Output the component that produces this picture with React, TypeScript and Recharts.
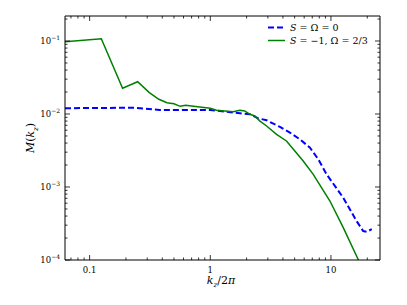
import React from "react";
import { LineChart, Line, XAxis, YAxis } from "recharts";

// k_z / 2pi and M(k_z) for S = Omega = 0 (dashed blue)
const kzBase = [0.0625, 0.236, 0.381, 1.0, 1.2, 1.76, 2.13, 2.49, 2.93, 3.78, 4.57, 5.53, 6.7, 7.85, 9.21, 12.65, 16.3, 18.5, 19.8, 21.8];
const mBase = [0.012, 0.0122, 0.01135, 0.01135, 0.011, 0.01023, 0.0099, 0.00873, 0.0082, 0.00664, 0.00555, 0.0045, 0.00345, 0.0024, 0.00149, 0.000713, 0.000342, 0.000249, 0.000244, 0.000264];

// k_z / 2pi and M(k_z) for S = -1, Omega = 2/3 (solid green)
const kzRot = [0.0625, 0.125, 0.1875, 0.25, 0.3125, 0.375, 0.4375, 0.5, 0.5625, 0.625, 0.818, 1.0, 1.126, 1.545, 1.757, 1.93, 2.13, 2.34, 2.58, 2.93, 3.54, 4.28, 5.02, 5.89, 7.13, 9.81, 12.65, 16.9];
const mRot = [0.0978, 0.1076, 0.0225, 0.0277, 0.0196, 0.0159, 0.01428, 0.01383, 0.01274, 0.01315, 0.0125, 0.012, 0.01125, 0.01076, 0.01125, 0.011, 0.0099, 0.0094, 0.008, 0.00685, 0.00527, 0.00427, 0.00311, 0.00227, 0.00149, 0.000643, 0.000277, 0.0001];

const xTicks = [0.07, 0.08, 0.09, 0.1, 0.2, 0.3, 0.4, 0.5, 0.6, 0.7, 0.8, 0.9, 1, 2, 3, 4, 5, 6, 7, 8, 9, 10, 20];
const yTicks = [
  0.0001, 0.0002, 0.0003, 0.0004, 0.0005, 0.0006, 0.0007, 0.0008, 0.0009,
  0.001, 0.002, 0.003, 0.004, 0.005, 0.006, 0.007, 0.008, 0.009,
  0.01, 0.02, 0.03, 0.04, 0.05, 0.06, 0.07, 0.08, 0.09, 0.1, 0.2,
];
const xLabels: Record<string, string> = { "0.1": "0.1", "1": "1", "10": "10" };

const baseData = kzBase.map((k, i) => ({ k, m: mBase[i] }));
const rotData = kzRot.map((k, i) => ({ k, m: mRot[i] }));

const FONT = "'DejaVu Serif', serif";
const isMajor = (v: number) => Math.abs(Math.log10(v) - Math.round(Math.log10(v))) < 1e-6;

function BottomTick(props: any) {
  const { x, y, payload } = props;
  const major = isMajor(payload.value);
  return (
    <g>
      <line x1={x} x2={x} y1={y} y2={y - (major ? 5 : 2.5)} stroke="#000" strokeWidth={0.8} />
      {major && (
        <text x={x} y={y + 13} textAnchor="middle" fontSize={8.5} fontFamily={FONT} fill="#000">
          {xLabels[String(payload.value)]}
        </text>
      )}
    </g>
  );
}

function TopTick(props: any) {
  const { x, y, payload } = props;
  const major = isMajor(payload.value);
  return <line x1={x} x2={x} y1={y} y2={y + (major ? 5 : 2.5)} stroke="#000" strokeWidth={0.8} />;
}

function LeftTick(props: any) {
  const { x, y, payload } = props;
  const major = isMajor(payload.value);
  const exp = Math.round(Math.log10(payload.value));
  return (
    <g>
      <line x1={x} x2={x + (major ? 5 : 2.5)} y1={y} y2={y} stroke="#000" strokeWidth={0.8} />
      {major && (
        <text x={x - 5} y={y + 3} textAnchor="end" fontSize={8.5} fontFamily={FONT} fill="#000">
          10
          <tspan dy={-4} fontSize={6}>{"\u2212" + Math.abs(exp)}</tspan>
        </text>
      )}
    </g>
  );
}

function RightTick(props: any) {
  const { x, y, payload } = props;
  const major = isMajor(payload.value);
  return <line x1={x} x2={x - (major ? 5 : 2.5)} y1={y} y2={y} stroke="#000" strokeWidth={0.8} />;
}

function LegendBox() {
  return (
    <div style={{ fontFamily: FONT, fontSize: 9.5, lineHeight: "13px", color: "#000" }}>
      <div style={{ display: "flex", alignItems: "center" }}>
        <svg width={24} height={13}>
          <line x1={2} x2={19} y1={6.5} y2={6.5} stroke="#0000ff" strokeWidth={2} strokeDasharray="6 3" />
        </svg>
        <span><i>S</i> = Ω = 0</span>
      </div>
      <div style={{ display: "flex", alignItems: "center" }}>
        <svg width={24} height={13}>
          <line x1={2} x2={19} y1={6.5} y2={6.5} stroke="#008000" strokeWidth={1.5} />
        </svg>
        <span><i>S</i> = −1, Ω = 2/3</span>
      </div>
    </div>
  );
}

export default function App() {
  return (
    <div style={{ position: "absolute", left: 0, top: 0, width: 407, height: 305, background: "#fff" }}>
      <LineChart width={407} height={305} margin={{ top: 15, right: 26, left: 15, bottom: 15 }}>
        <XAxis
          xAxisId="b"
          dataKey="k"
          type="number"
          scale="log"
          domain={[0.0625, 25.5]}
          allowDataOverflow
          ticks={xTicks}
          interval={0}
          tickSize={0}
          tickMargin={0}
          tickLine={false}
          tick={<BottomTick />}
          height={30}
          axisLine={{ stroke: "#000", strokeWidth: 1 }}
        />
        <XAxis
          xAxisId="t"
          orientation="top"
          dataKey="k"
          type="number"
          scale="log"
          domain={[0.0625, 25.5]}
          allowDataOverflow
          ticks={xTicks}
          interval={0}
          tickSize={0}
          tickMargin={0}
          tickLine={false}
          tick={<TopTick />}
          height={1}
          axisLine={{ stroke: "#000", strokeWidth: 1 }}
        />
        <YAxis
          yAxisId="l"
          dataKey="m"
          type="number"
          scale="log"
          domain={[0.0001, 0.22]}
          allowDataOverflow
          ticks={yTicks}
          interval={0}
          tickSize={0}
          tickMargin={0}
          tickLine={false}
          tick={<LeftTick />}
          width={50}
          axisLine={{ stroke: "#000", strokeWidth: 1 }}
        />
        <YAxis
          yAxisId="r"
          orientation="right"
          dataKey="m"
          type="number"
          scale="log"
          domain={[0.0001, 0.22]}
          allowDataOverflow
          ticks={yTicks}
          interval={0}
          tickSize={0}
          tickMargin={0}
          tickLine={false}
          tick={<RightTick />}
          width={1}
          axisLine={{ stroke: "#000", strokeWidth: 1 }}
        />
        <Line
          xAxisId="b"
          yAxisId="l"
          data={baseData}
          dataKey="m"
          stroke="#0000ff"
          strokeWidth={2}
          strokeDasharray="6 3"
          dot={false}
          type="linear"
          isAnimationActive={false}
        />
        <Line
          xAxisId="b"
          yAxisId="l"
          data={rotData}
          dataKey="m"
          stroke="#008000"
          strokeWidth={1.5}
          dot={false}
          type="linear"
          isAnimationActive={false}
        />
      </LineChart>
      <div style={{ position: "absolute", left: 266, top: 21 }}>
        <LegendBox />
      </div>
      <div
        style={{
          position: "absolute",
          left: 196,
          top: 274,
          width: 50,
          fontFamily: FONT,
          fontSize: 11,
          textAlign: "center",
        }}
      >
        <i>k</i>
        <sub style={{ fontSize: 7 }}><i>z</i></sub>/2<i>π</i>
      </div>
      <div
        style={{
          position: "absolute",
          left: 32,
          top: 138,
          transform: "translate(-50%, -50%) rotate(-90deg)",
          fontFamily: FONT,
          fontSize: 11,
          whiteSpace: "nowrap",
        }}
      >
        <i>M</i>(<i>k</i>
        <sub style={{ fontSize: 7 }}><i>z</i></sub>)
      </div>
    </div>
  );
}
